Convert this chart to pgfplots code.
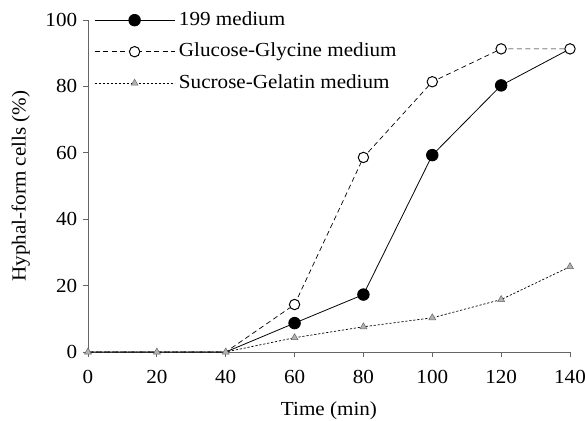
\documentclass[border=0pt]{standalone}
\usepackage{fontspec}
\setmainfont[FakeStretch=1.06]{Liberation Serif}
\usepackage{pgfplots}
\pgfplotsset{compat=1.18}
\usepackage{pgfplotstable}
\pgfplotsset{gluleg/.style={legend image code/.code={\draw[##1] (0bp,0bp) -- (80bp,0bp);
    \draw[solid, black, line width=1pt, fill=white] (40bp,0bp) circle[radius=5.2bp];}}}
\pgfplotstableread{
x y199 yglu ysuc
0 0 0 0
20 0 0 0
40 0 0 0
60 8.7 14.3 4.3
80 17.3 58.6 7.6
100 59.3 81.4 10.3
120 80.3 91.3 15.8
140 91.3 91.3 25.7
}\datatable
\begin{document}
\fontsize{20}{24}\selectfont
\begin{tikzpicture}
\begin{axis}[
  scale only axis, width=482bp, height=332bp,
  at={(0,0)}, anchor=south west,
  xmin=0, xmax=140, ymin=0, ymax=100,
  xtick={0,20,...,140}, ytick={0,20,...,100},
  axis x line*=bottom, axis y line*=left,
  axis line style={gray!80!black, line width=0.9pt},
  tick style={gray!80!black, line width=0.9pt},
  tick align=outside, major tick length=5bp,
  /pgf/number format/assume math mode=true,
  ticklabel style={font=\fontsize{20}{24}\selectfont},
  xticklabel style={yshift=-6bp},
  yticklabel style={xshift=1bp},
  label style={font=\fontsize{20}{24}\selectfont},
  xlabel={Time (min)}, ylabel={Hyphal-form cells (\%)},
  xlabel style={yshift=-5bp},
  ylabel style={yshift=2bp},
  clip=false,
  legend cell align=left,
  legend style={at={(rel axis cs:0,1)}, anchor=north west, draw=none, fill=none,
    font=\fontsize{20}{24}\selectfont, row sep=11.5bp, inner sep=0pt,
    xshift=6bp, yshift=10bp,
    nodes={inner xsep=4bp, inner ysep=0pt, text height=15bp, text depth=5bp}},
  legend image code/.code={\draw[#1, mark indices={2}] plot coordinates {(0bp,0bp)(40bp,0bp)(80bp,0bp)};},
]
\addplot[black, line width=0.8pt, mark=*, mark size=5.8bp, mark indices={4,5,6,7}] table[x=x, y=y199] {\datatable};
\addlegendentry{199 medium}
\addplot[black, line width=0.7pt, dash pattern=on 5bp off 3.5bp, gluleg]
  table[x=x, y=yglu] {\datatable};
\addlegendentry{Glucose-Glycine medium}
\addplot[black, line width=0.7pt, dash pattern=on 2.2bp off 1.8bp, mark=triangle*, mark size=4bp, mark options={solid, fill=gray!60, draw=gray!80!black, line width=0.5pt}] table[x=x, y=ysuc] {\datatable};
\addlegendentry{Sucrose-Gelatin medium}
\addplot[only marks, mark=*, mark size=5.2bp, mark options={draw=black, fill=white, line width=1pt}, mark indices={4,5,6,7,8}, forget plot] table[x=x, y=yglu] {\datatable};
\end{axis}
\pgfresetboundingbox
\path[use as bounding box] (-88bp,-69bp) rectangle (497bp,352bp);
\end{tikzpicture}
\end{document}
